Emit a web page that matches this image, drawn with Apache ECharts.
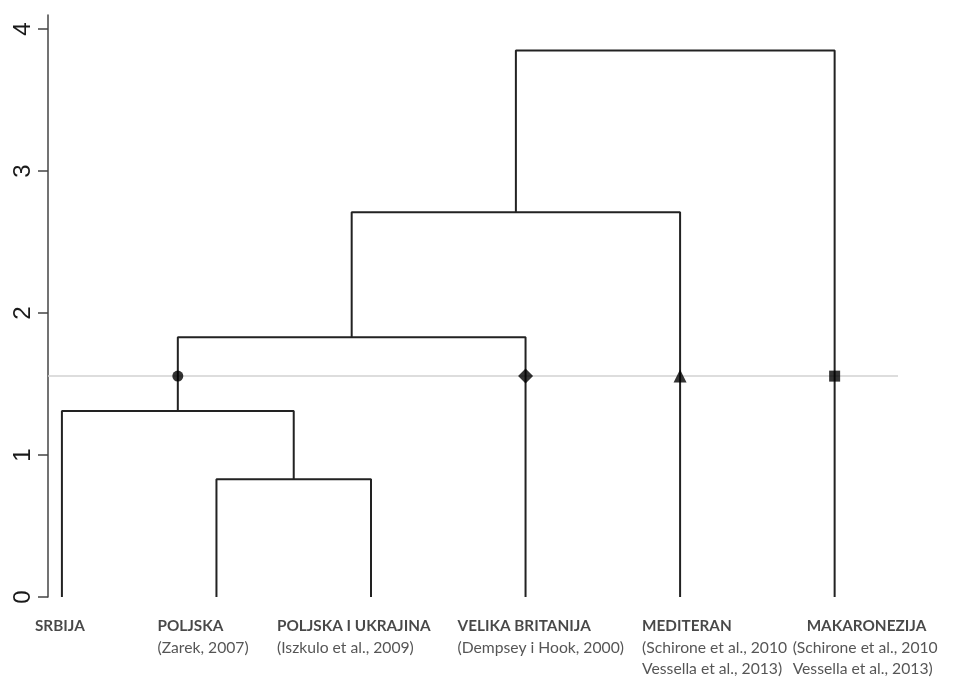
<!DOCTYPE html>
<html><head><meta charset="utf-8">
<script src="https://cdn.jsdelivr.net/npm/echarts@6/dist/echarts.min.js"></script>
<style>html,body{margin:0;padding:0;background:#fff}#c{width:963px;height:677px}</style>
</head><body><div id="c"></div>
<script>
// ---- data ----
const leafNames = ['SRBIJA', 'POLJSKA', 'POLJSKA I UKRAJINA', 'VELIKA BRITANIJA', 'MEDITERAN', 'MAKARONEZIJA'];
const leafRefs = [
  [],
  ['(Zarek, 2007)'],
  ['(Iszkulo et al., 2009)'],
  ['(Dempsey i Hook, 2000)'],
  ['(Schirone et al., 2010', 'Vessella et al., 2013)'],
  ['(Schirone et al., 2010', 'Vessella et al., 2013)']
];
// merge steps: children are leaf indices (numbers) or earlier merges ('m0', 'm1', ...)
const mergeChildren = [[1, 2], [0, 'm0'], ['m1', 3], ['m2', 4], ['m3', 5]];
const mergeHeights = [0.83, 1.31, 1.83, 2.71, 3.85];
const cutHeight = 1.556;
const cutNodes = ['m1', 3, 4, 5];
const cutSymbols = ['circle', 'diamond', 'triangle', 'rect'];
const yTicks = [0, 1, 2, 3, 4];

// ---- styles ----
const labelOffsets = [-27, -59, -94, -68, -38, -42];
const nameIndent = [0, 0, 0, 0, 0, 14];
const cutSymbolSizes = [11, 15, 13, 11];
const X_MIN = 0.91, X_MAX = 6.41;

// ---- layout via dendrogram rule (leaf order, midpoints) ----
const pos = {};
leafNames.forEach((n, i) => { pos[i] = [i + 1, 0]; });
mergeChildren.forEach((c, k) => {
  const a = pos[c[0]], b = pos[c[1]];
  pos['m' + k] = [(a[0] + b[0]) / 2, mergeHeights[k]];
});

const series = [];
series.push({
  type: 'line', silent: true, symbol: 'none', z: 1,
  data: [[X_MIN, cutHeight], [X_MAX, cutHeight]],
  lineStyle: { color: '#d2d2d2', width: 1.5 }
});
mergeChildren.forEach((c, k) => {
  const a = pos[c[0]], b = pos[c[1]], h = mergeHeights[k];
  series.push({
    type: 'line', silent: true, symbol: 'none', z: 2,
    data: [[a[0], a[1]], [a[0], h], [b[0], h], [b[0], b[1]]],
    lineStyle: { color: '#222', width: 2 }
  });
});
series.push({
  type: 'scatter', silent: true, z: 3,
  data: cutNodes.map((n, i) => ({
    value: [pos[n][0], cutHeight],
    symbol: cutSymbols[i],
    symbolSize: cutSymbolSizes[i]
  })),
  itemStyle: { color: '#000' }
});
series.push({
  type: 'scatter', silent: true, symbolSize: 0, z: 4,
  data: leafNames.map((n, i) => ({
    value: [i + 1, 0],
    label: {
      show: true, position: 'bottom', distance: 0, align: 'left', verticalAlign: 'top',
      offset: [labelOffsets[i], 19],
      formatter: () => {
        const parts = ['{' + (nameIndent[i] ? 'nameP' : 'name') + '|' + n + '}'];
        leafRefs[i].forEach(r => parts.push('{ref|' + r + '}'));
        return parts.join('\n');
      },
      rich: {
        name: { fontFamily: 'Lato', fontWeight: 'bold', fontSize: 15.3, lineHeight: 21, color: '#1a1a1a' },
        nameP: { fontFamily: 'Lato', fontWeight: 'bold', fontSize: 15.3, lineHeight: 21, color: '#1a1a1a', padding: [0, 0, 0, nameIndent[i]] },
        ref: { fontFamily: 'Lato', fontSize: 15.7, lineHeight: 21, color: '#2a2a2a' }
      }
    }
  }))
});

const chart = echarts.init(document.getElementById('c'), null, { renderer: 'canvas' });
chart.setOption({
  animation: false,
  backgroundColor: '#fff',
  grid: { left: 48, top: 15, width: 850, height: 582 },
  xAxis: { type: 'value', min: X_MIN, max: X_MAX, show: false },
  yAxis: {
    type: 'value', min: 0, max: 4.1,
    axisLine: { show: true, lineStyle: { color: '#444', width: 1.5 } },
    axisTick: { show: true, length: 10, customValues: yTicks, lineStyle: { color: '#444', width: 1.5 } },
    axisLabel: {
      show: true, rotate: 90, margin: 13, customValues: yTicks,
      textStyle: { fontSize: 24 },
      fontSize: 24, color: '#1a1a1a', fontFamily: 'Liberation Sans'
    },
    splitLine: { show: false }
  },
  series: series
});
</script></body></html>
